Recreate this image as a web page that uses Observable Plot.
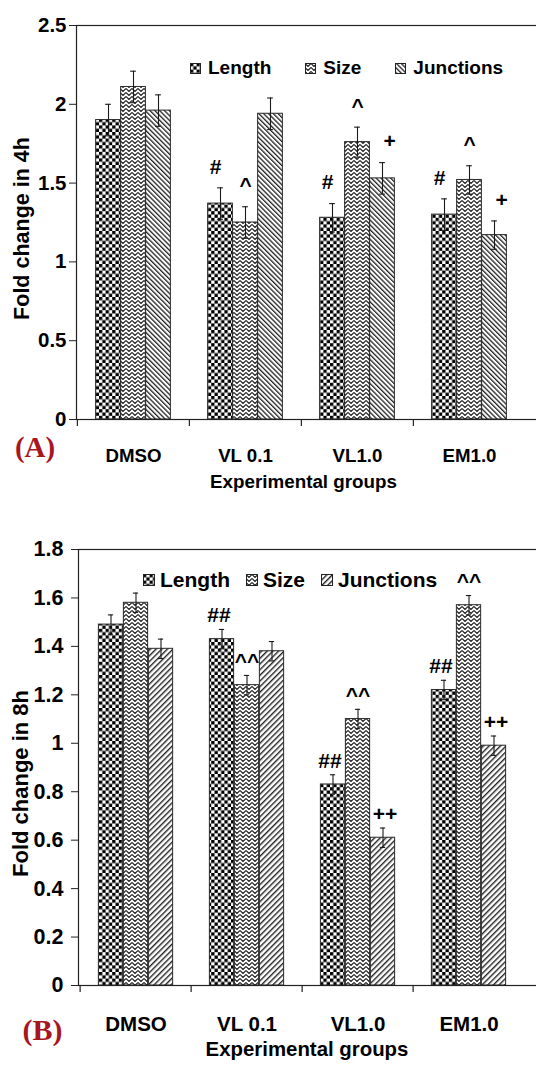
<!DOCTYPE html>
<html><head><meta charset="utf-8">
<script src="https://cdn.jsdelivr.net/npm/d3@7"></script>
<script src="https://cdn.jsdelivr.net/npm/@observablehq/plot@0.6"></script>
<style>
html,body{margin:0;padding:0;background:#fff;}
body{width:536px;height:1066px;overflow:hidden;font-family:"Liberation Sans",Arial,sans-serif;}
.panel{position:relative;width:536px;overflow:hidden;}
.panel svg.plotsvg{display:block;max-width:none !important;}
.legend{position:absolute;display:flex;align-items:center;font-weight:bold;white-space:nowrap;color:#000;height:24px;}
.legend .item{display:flex;align-items:center;}
.legend svg{display:block;}
</style></head><body>
<svg width="0" height="0" style="position:absolute">
  <defs>
    <pattern id="chk" width="6.6" height="6.6" patternUnits="userSpaceOnUse">
      <rect width="6.6" height="6.6" fill="#fff"/>
      <rect width="3.3" height="3.3" fill="#000"/>
      <rect x="3.3" y="3.3" width="3.3" height="3.3" fill="#000"/>
    </pattern>
    <pattern id="zig" width="6" height="4" patternUnits="userSpaceOnUse">
      <rect width="6" height="4" fill="#fff"/>
      <path d="M0,0.5 L3,3.5 L6,0.5" fill="none" stroke="#222" stroke-width="1.15"/>
    </pattern>
    <pattern id="back" width="3.4" height="3.4" patternUnits="userSpaceOnUse" patternTransform="rotate(-45)">
      <rect width="3.4" height="3.4" fill="#fff"/>
      <rect width="1.3" height="3.4" fill="#222"/>
    </pattern>
    <pattern id="fwd" width="4" height="4" patternUnits="userSpaceOnUse" patternTransform="rotate(45)">
      <rect width="4" height="4" fill="#fff"/>
      <rect width="1.4" height="4" fill="#222"/>
    </pattern>
  </defs>
</svg>
<div id="A" class="panel"></div>
<div id="B" class="panel"></div>
<script>
// ---------- data ----------
const groups = ["DMSO", "VL 0.1", "VL1.0", "EM1.0"];
const seriesNames = ["Length", "Size", "Junctions"];

// Panel A: fold change in 4h
const yTicks4h = [0, 0.5, 1, 1.5, 2, 2.5];
const length4h = [1.90, 1.37, 1.28, 1.30];
const size4h = [2.11, 1.25, 1.76, 1.52];
const junctions4h = [1.96, 1.94, 1.53, 1.17];
const lengthErr4h = [0.10, 0.10, 0.09, 0.10];
const sizeErr4h = [0.10, 0.10, 0.095, 0.09];
const junctionsErr4h = [0.10, 0.10, 0.10, 0.09];
const lengthSig4h = ["", "#", "#", "#"];
const sizeSig4h = ["", "^", "^", "^"];
const junctionsSig4h = ["", "", "+", "+"];

// Panel B: fold change in 8h
const yTicks8h = [0, 0.2, 0.4, 0.6, 0.8, 1, 1.2, 1.4, 1.6, 1.8];
const length8h = [1.49, 1.43, 0.83, 1.22];
const size8h = [1.58, 1.24, 1.10, 1.57];
const junctions8h = [1.39, 1.38, 0.61, 0.99];
const lengthErr8h = [0.04, 0.04, 0.04, 0.04];
const sizeErr8h = [0.04, 0.04, 0.04, 0.04];
const junctionsErr8h = [0.04, 0.04, 0.04, 0.04];
const lengthSig8h = ["", "##", "##", "##"];
const sizeSig8h = ["", "^^", "^^", "^^"];
const junctionsSig8h = ["", "", "++", "++"];

const xLabel = "Experimental groups";

// ---------- drawing ----------
function drawPanel(el, cfg) {
  const xRange = [cfg.left, cfg.right];
  const band = (xRange[1] - xRange[0]) / groups.length;
  const barW = 25, cap = 3;
  const outer = (band - 3 * barW) / 2;
  const rows = [];
  cfg.values.forEach((vals, i) => vals.forEach((v, j) => rows.push({
    group: groups[j], series: seriesNames[i], si: i, value: v, err: cfg.errs[i][j], sig: cfg.sigs[i][j]
  })));
  const font = "Liberation Sans, Arial, sans-serif";
  const marks = [];
  seriesNames.forEach((s, i) => {
    const data = rows.filter(d => d.si === i);
    const left = outer + i * barW, right = band - left - barW;
    const center = left + barW / 2 - band / 2;
    marks.push(Plot.barY(data, {x: "group", y: "value", fill: "series", stroke: "#2a2a2a", strokeWidth: 1, insetLeft: left, insetRight: right}));
    marks.push(Plot.ruleX(data, {x: "group", y1: d => d.value - d.err, y2: d => d.value + d.err, dx: center, stroke: "#1a1a1a", strokeWidth: 1.1}));
    marks.push(Plot.tickY(data, {x: "group", y: d => d.value + d.err, insetLeft: left + barW / 2 - cap, insetRight: right + barW / 2 - cap, stroke: "#1a1a1a", strokeWidth: 1.1}));
    marks.push(Plot.tickY(data, {x: "group", y: d => d.value - d.err, insetLeft: left + barW / 2 - cap, insetRight: right + barW / 2 - cap, stroke: "#1a1a1a", strokeWidth: 1.1}));
    marks.push(Plot.text(data.filter(d => d.sig), {x: "group", y: d => d.value + d.err, text: "sig", dx: center + cfg.sigDx[i], dy: -cfg.sigLift, fontSize: cfg.sigFont, fontWeight: "bold", fill: "#000"}));
  });
  marks.push(Plot.frame({stroke: "#222", strokeWidth: 1.2}));
  marks.push(Plot.axisY({ticks: cfg.yTicks, tickFormat: d => String(d), tickSize: 7, tickPadding: cfg.yPad, label: null, fontSize: cfg.tickFont, fontWeight: "bold", stroke: "#222"}));
  marks.push(Plot.axisX({tickSize: 0, tickPadding: cfg.xPad, label: null, fontSize: cfg.catFont, fontWeight: "bold"}));
  marks.push(Plot.ruleX(groups, {x: d => d, y1: 0, y2: 0, dx: -band / 2, insetTop: 7, insetBottom: 0, stroke: "#222", strokeWidth: 1.2}));
  marks.push(Plot.text([cfg.yLabel], {text: d => d, frameAnchor: "left", textAnchor: "middle", rotate: -90, dx: cfg.yLabelDx, dy: cfg.yLabelDy, fontSize: cfg.yLabelFont, fontWeight: "bold", fill: "#000"}));
  marks.push(Plot.text([xLabel], {text: d => d, frameAnchor: "bottom", textAnchor: "middle", dx: cfg.xLabelDx, dy: cfg.xLabelDy, fontSize: cfg.labelFont, fontWeight: "bold", fill: "#000"}));
  marks.push(Plot.text([cfg.panel], {text: d => d, frameAnchor: "bottom-left", textAnchor: "middle", dx: cfg.panelDx, dy: cfg.panelDy, fontSize: cfg.panelFont, fontWeight: "bold", fontFamily: "Liberation Serif, Times New Roman, serif", fill: "#a8161f"}));

  const chart = Plot.plot({
    width: 545, height: cfg.height,
    marginTop: cfg.marginTop, marginBottom: cfg.marginBottom, marginLeft: cfg.left, marginRight: 0,
    style: {fontFamily: font, fontWeight: "bold", fontSize: "18px", color: "#000", background: "transparent", overflow: "visible", maxWidth: "none"},
    x: {domain: groups, range: xRange, padding: 0, axis: null},
    y: {domain: [cfg.yTicks[0], cfg.yTicks[cfg.yTicks.length - 1]], axis: null},
    color: {type: "ordinal", domain: seriesNames, range: cfg.patterns},
    marks
  });
  chart.classList.add("plotsvg");
  chart.style.maxWidth = "none";
  chart.style.width = "545px";
  chart.style.height = cfg.height + "px";
  el.style.height = cfg.height + "px";
  el.appendChild(chart);

  // legend
  const lg = document.createElement("div");
  lg.className = "legend";
  lg.style.left = cfg.legendLeft + "px";
  lg.style.top = cfg.legendTop + "px";
  lg.style.fontSize = cfg.legendFont + "px";
  seriesNames.forEach((s, i) => {
    const it = document.createElement("div");
    it.className = "item";
    if (i < seriesNames.length - 1) it.style.marginRight = cfg.legendGap + "px";
    const sw = cfg.legendSwatch;
    it.innerHTML = `<svg width="${sw}" height="${sw}" style="margin-right:${cfg.legendTextGap}px"><rect x="0.5" y="0.5" width="${sw - 1}" height="${sw - 1}" fill="${cfg.patterns[i]}" stroke="#222" stroke-width="1"/></svg><span>${s}</span>`;
    lg.appendChild(it);
  });
  el.appendChild(lg);
}

drawPanel(document.getElementById("A"), {
  panel: "(A)", yLabel: "Fold change in 4h",
  height: 510, marginTop: 25, marginBottom: 91, left: 76, right: 525,
  yTicks: yTicks4h,
  values: [length4h, size4h, junctions4h],
  errs: [lengthErr4h, sizeErr4h, junctionsErr4h],
  sigs: [lengthSig4h, sizeSig4h, junctionsSig4h],
  patterns: ["url(#chk)", "url(#zig)", "url(#back)"],
  sigDx: [-5, 0, 7], sigLift: 21, sigFont: 21,
  tickFont: 20.5, catFont: 18.7, yPad: 3, xPad: 29, labelFont: 18.8, yLabelFont: 21.5,
  yLabelDx: -54, yLabelDy: 6, xLabelDx: -7.5, xLabelDy: 68,
  panelDx: -41.5, panelDy: 37, panelFont: 29,
  legendLeft: 190, legendTop: 56, legendFont: 19, legendSwatch: 11, legendTextGap: 7, legendGap: 34
});

drawPanel(document.getElementById("B"), {
  panel: "(B)", yLabel: "Fold change in 8h",
  height: 556, marginTop: 39, marginBottom: 81, left: 78, right: 525,
  yTicks: yTicks8h,
  values: [length8h, size8h, junctions8h],
  errs: [lengthErr8h, sizeErr8h, junctionsErr8h],
  sigs: [lengthSig8h, sizeSig8h, junctionsSig8h],
  patterns: ["url(#chk)", "url(#zig)", "url(#fwd)"],
  sigDx: [-3, 0, 2], sigLift: 14, sigFont: 21,
  tickFont: 21.5, catFont: 20.5, yPad: 8, xPad: 31, labelFont: 20.4, yLabelFont: 22,
  yLabelDx: -58, yLabelDy: 16, xLabelDx: -5, xLabelDy: 70,
  panelDx: -36, panelDy: 54, panelFont: 30,
  legendLeft: 143, legendTop: 58, legendFont: 21, legendSwatch: 12, legendTextGap: 5, legendGap: 16
});
</script>
</body></html>
